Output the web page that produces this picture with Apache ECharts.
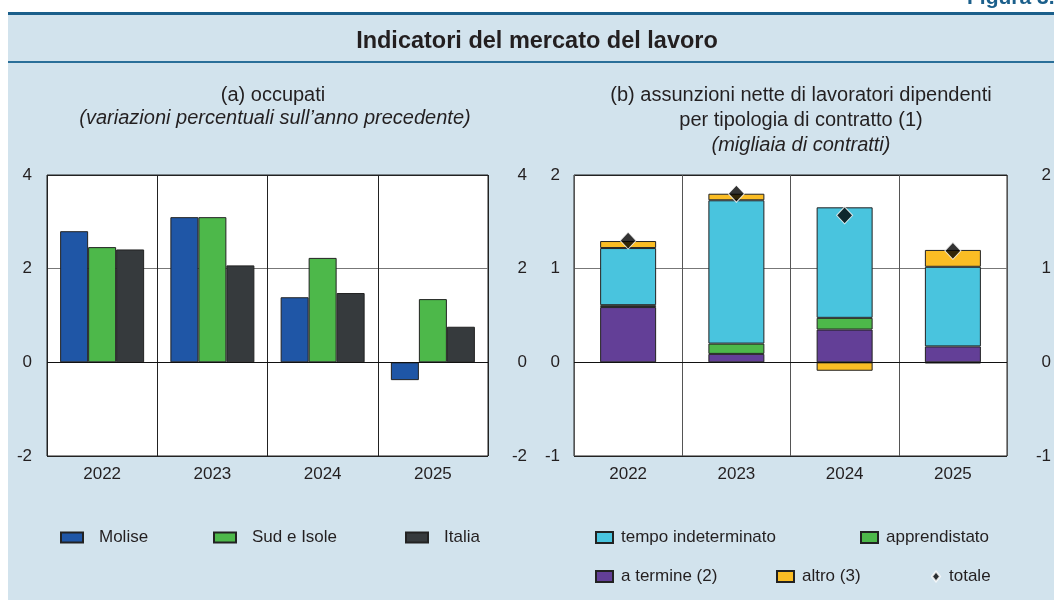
<!DOCTYPE html>
<html>
<head>
<meta charset="utf-8">
<script src="https://cdn.jsdelivr.net/npm/echarts@6/dist/echarts.min.js"></script>
<style>
  html, body { margin: 0; padding: 0; background: #fff; }
  #chart { width: 1054px; height: 600px; }
</style>
</head>
<body>
<div id="chart"></div>
<script>
// anni
var years = ['2022', '2023', '2024', '2025'];

// (a) occupati, variazioni percentuali
var molise = [2.80, 3.10, 1.39, -0.38];
var sudIsole = [2.46, 3.10, 2.23, 1.35];
var italia = [2.41, 2.07, 1.48, 0.76];

// (b) assunzioni nette, migliaia di contratti
var aTermine = [0.59, 0.09, 0.35, 0.17];
var apprendistato = [0.02, 0.11, 0.125, -0.01];
var tempoIndet = [0.61, 1.53, 1.18, 0.85];
var altro = [0.075, 0.07, -0.09, 0.18];
var totale = [1.30, 1.80, 1.57, 1.19];

var ticksA = [-2, 0, 2, 4];
var ticksB = [-1, 0, 1, 2];

var font = 'Liberation Sans, Arial, sans-serif';
var txt = '#231f20';
var bg = '#d2e3ed';
var blu = '#1b5f8b';

var chart = echarts.init(document.getElementById('chart'));

function yAx(grid, pos, ticks, margin, showSplit, splitCol) {
    return {
        type: 'value',
        gridIndex: grid,
        position: pos,
        min: ticks[0],
        max: ticks[ticks.length - 1],
        interval: ticks[1] - ticks[0],
        axisLine: {show: false},
        axisTick: {show: false},
        axisLabel: {
            color: txt, fontSize: 17, fontFamily: font,
            align: 'right', margin: margin
        },
        splitLine: {show: showSplit, lineStyle: {color: splitCol, width: 1}}
    };
}

function xAx(grid, splitCol) {
    return {
        type: 'category',
        gridIndex: grid,
        data: years,
        axisLine: {show: false},
        axisTick: {show: false},
        axisLabel: {color: txt, fontSize: 17, fontFamily: font, margin: 10},
        splitLine: {show: true, interval: 0, lineStyle: {color: splitCol}}
    };
}

function leg(name, left, top, w, h, pad, icon) {
    return {
        data: [{name: name, icon: icon || 'rect'}],
        left: left, top: top,
        padding: 0,
        itemWidth: w, itemHeight: h,
        selectedMode: false,
        textStyle: {color: txt, fontSize: 17, fontFamily: font, padding: [0, 0, 0, pad]}
    };
}

var border = {borderColor: '#222', borderWidth: 1};

var option = {
    backgroundColor: '#fff',
    animation: false,
    textStyle: {fontFamily: font},
    graphic: [
        {type: 'rect', shape: {x: 8, y: 14, width: 1046, height: 586}, style: {fill: bg}, z: -10},
        {type: 'rect', shape: {x: 8, y: 12, width: 1046, height: 3}, style: {fill: blu}, z: -5},
        {type: 'rect', shape: {x: 8, y: 61, width: 1046, height: 2}, style: {fill: '#2a6f99'}, z: -5},
        {type: 'text', left: 967, top: -12, style: {text: 'Figura 3.', fill: blu, font: 'bold 21px ' + font}},
        {type: 'text', x: 537, y: 42, style: {text: 'Indicatori del mercato del lavoro', fill: txt,
            font: 'bold 23.5px ' + font, align: 'center', verticalAlign: 'middle'}},
        {type: 'text', x: 273, y: 95, style: {text: '(a) occupati', fill: txt,
            font: '20px ' + font, align: 'center', verticalAlign: 'middle'}},
        {type: 'text', x: 275, y: 118, style: {text: '(variazioni percentuali sull\u2019anno precedente)', fill: txt,
            font: 'italic 20px ' + font, align: 'center', verticalAlign: 'middle'}},
        {type: 'text', x: 801, y: 95, style: {text: '(b) assunzioni nette di lavoratori dipendenti', fill: txt,
            font: '20px ' + font, align: 'center', verticalAlign: 'middle'}},
        {type: 'text', x: 801, y: 120, style: {text: 'per tipologia di contratto (1)', fill: txt,
            font: '20px ' + font, align: 'center', verticalAlign: 'middle'}},
        {type: 'text', x: 801, y: 145, style: {text: '(migliaia di contratti)', fill: txt,
            font: 'italic 20px ' + font, align: 'center', verticalAlign: 'middle'}}
    ],
    grid: [
        {left: 47, top: 175, width: 441, height: 281, show: true, backgroundColor: '#fff',
            borderColor: '#222', borderWidth: 1},
        {left: 574, top: 175, width: 437, height: 281, show: true, backgroundColor: '#fff',
            borderColor: '#222', borderWidth: 1}
    ],
    xAxis: [xAx(0, '#222'), xAx(1, '#555')],
    yAxis: [
        yAx(0, 'left', ticksA, 15, true, ['#222', '#111', '#777', '#222']),
        yAx(0, 'right', ticksA, 39, false),
        yAx(1, 'left', ticksB, 14, true, ['#222', '#111', '#777', '#222']),
        yAx(1, 'right', ticksB, 44, false)
    ],
    legend: [
        leg('Molise', 60, 529, 22, 10, 11),
        leg('Sud e Isole', 213, 529, 22, 10, 11),
        leg('Italia', 405, 529, 22, 10, 11),
        leg('tempo indeterminato', 595, 529, 17, 11, 3),
        leg('apprendistato', 860, 529, 17, 11, 3),
        leg('a termine (2)', 595, 568, 17, 11, 3),
        leg('altro (3)', 776, 568, 17, 11, 3),
        leg('totale', 931, 568, 8, 10, 4, 'diamond')
    ],
    series: [
        {name: 'Molise', type: 'bar', xAxisIndex: 0, yAxisIndex: 0, data: molise,
            barWidth: 28, barGap: '0%', itemStyle: Object.assign({color: '#1f56a6'}, border)},
        {name: 'Sud e Isole', type: 'bar', xAxisIndex: 0, yAxisIndex: 0, data: sudIsole,
            barWidth: 28, barGap: '0%', itemStyle: Object.assign({color: '#4db84a'}, border)},
        {name: 'Italia', type: 'bar', xAxisIndex: 0, yAxisIndex: 0, data: italia,
            barWidth: 28, barGap: '0%', itemStyle: Object.assign({color: '#363a3d'}, border),
            markLine: {silent: true, symbol: 'none', label: {show: false},
                lineStyle: {color: '#111', width: 1, type: 'solid'}, data: [{yAxis: 0}]}},
        {name: 'a termine (2)', type: 'bar', stack: 'b', xAxisIndex: 1, yAxisIndex: 2, data: aTermine,
            barWidth: 56, itemStyle: Object.assign({color: '#633f97'}, border)},
        {name: 'apprendistato', type: 'bar', stack: 'b', xAxisIndex: 1, yAxisIndex: 2, data: apprendistato,
            barWidth: 56, itemStyle: Object.assign({color: '#4db84a'}, border)},
        {name: 'tempo indeterminato', type: 'bar', stack: 'b', xAxisIndex: 1, yAxisIndex: 2, data: tempoIndet,
            barWidth: 56, itemStyle: Object.assign({color: '#49c4de'}, border)},
        {name: 'altro (3)', type: 'bar', stack: 'b', xAxisIndex: 1, yAxisIndex: 2, data: altro,
            barWidth: 56, itemStyle: Object.assign({color: '#fbbd24'}, border),
            markLine: {silent: true, symbol: 'none', label: {show: false},
                lineStyle: {color: '#111', width: 1, type: 'solid'}, data: [{yAxis: 0}]}},
        {name: 'totale', type: 'scatter', xAxisIndex: 1, yAxisIndex: 2, data: totale,
            symbol: 'diamond', symbolSize: [16, 17], z: 5,
            itemStyle: {color: '#000', borderColor: '#fff', borderWidth: 1}}
    ]
};

chart.setOption(option);
</script>
</body>
</html>
